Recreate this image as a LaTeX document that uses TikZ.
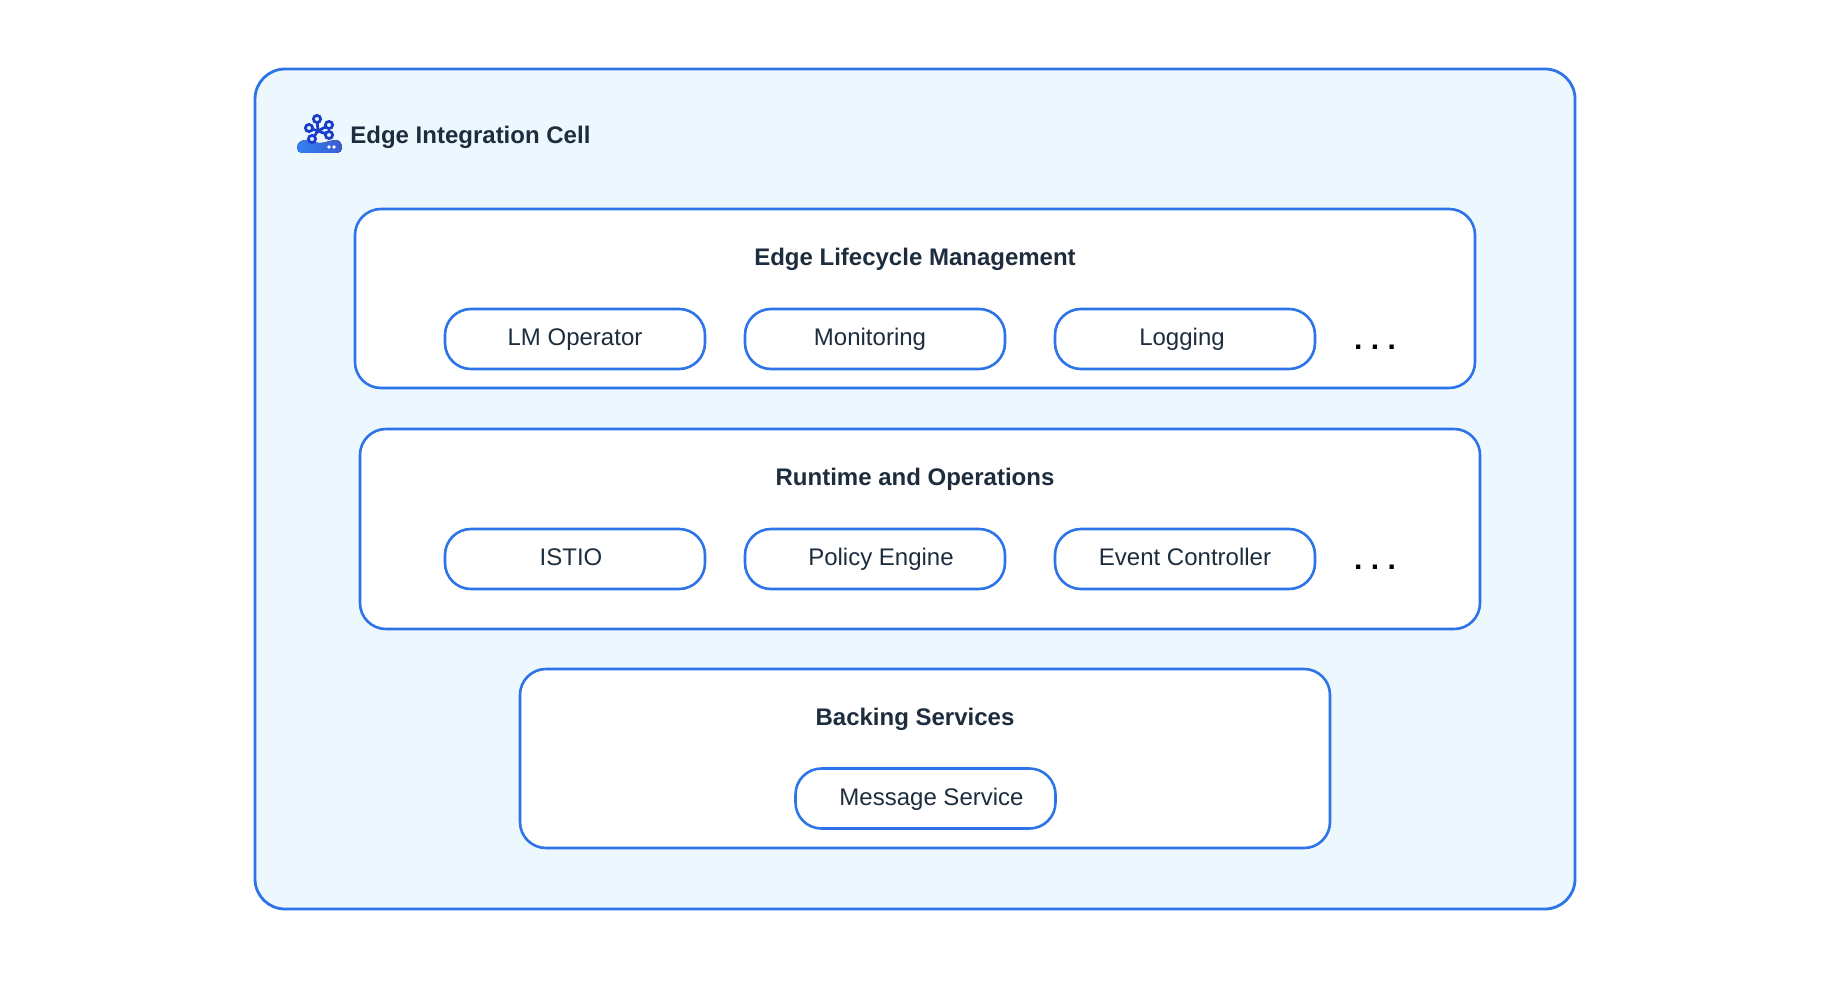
\documentclass[tikz,border=0pt]{standalone}
\usepackage{fontspec}
\usepackage{xcolor}
\usetikzlibrary{shapes,positioning}
\setmainfont{Liberation Sans}
\definecolor{cellblue}{RGB}{45, 116, 232}
\definecolor{cellfill}{RGB}{236, 247, 254}
\definecolor{textdark}{RGB}{29, 45, 62}
\definecolor{icondark}{RGB}{26, 62, 200}
\definecolor{iconlight}{RGB}{50, 130, 245}

\begin{document}
\begin{tikzpicture}[
    x=0.5pt, y=-0.5pt,
    node distance=150pt,
    outerbox/.style={rectangle, rounded corners=15pt, minimum width=660pt, minimum height=420pt, draw=cellblue, fill=cellfill, line width=1.4pt},
    panel/.style={rectangle, rounded corners=13pt, minimum height=89.5pt, draw=cellblue, fill=white, line width=1.3pt},
    pill/.style={rectangle, rounded corners=13pt, minimum width=130pt, minimum height=30pt, draw=cellblue, fill=white, line width=1.3pt},
    pilltext/.style={text=textdark, font=\fontsize{12}{14}\selectfont, inner sep=0pt, text height=9pt, text depth=2.5pt},
    titletext/.style={text=textdark, font=\fontsize{12}{14}\selectfont\bfseries, inner sep=0pt, text height=9pt, text depth=2.5pt},
    dotstext/.style={text=black, font=\fontsize{15}{16}\selectfont\bfseries\frenchspacing, inner sep=0pt},
    ring/.style={draw=icondark, line width=1.4pt, fill=cellfill}
]
\useasboundingbox (0,0) rectangle (1834,984);

% Outer cell
\node[outerbox] (edge_cell) at (915,489) {};
\node[titletext, anchor=west] (cell_title) at (350,137) {Edge Integration Cell};

% Icon
\fill[left color=iconlight, right color=icondark!85] (297,148) .. controls (297,142) and (302,140) .. (306,140) .. controls (312,140) and (314,143) .. (320,143) .. controls (326,143) and (330,140) .. (336,140) .. controls (340,140) and (342,144) .. (342,148) .. controls (342,151) and (340,153) .. (337,153) -- (302,153) .. controls (299,153) and (297,151) .. (297,148) -- cycle;
\foreach \px/\py in {317/119, 329/125, 329/135, 312/139, 309/128} {
    \draw[icondark, line width=1.4pt] (318,131) -- (\px,\py);
}
\foreach \px/\py in {317/119, 329/125, 329/135, 312/139, 309/128} {
    \draw[ring] (\px,\py) circle (3.6);
}
\fill[white] (329,147) circle (1.8);
\fill[white] (334,147) circle (1.8);

% Edge Lifecycle Management
\node[panel, minimum width=560pt] (lifecycle) at (915,298.5) {};
\node[titletext] (lifecycle_title) at (915,258.5) {Edge Lifecycle Management};
\node[pill, label={[pilltext]center:LM Operator}] (lm_operator) at (575,339) {};
\node[pill, right of=lm_operator, label={[pilltext, xshift=-2.5pt]center:Monitoring}] (monitoring) {};
\node[pill, right of=monitoring, xshift=5pt, label={[pilltext, xshift=-1.5pt]center:Logging}] (logging) {};
\node[dotstext, right of=logging, node distance=95pt, yshift=-4pt] (lifecycle_dots) {. . .};

% Runtime and Operations
\node[panel, minimum width=560pt, minimum height=100pt] (runtime) at (920,529) {};
\node[titletext] (runtime_title) at (915,478.5) {Runtime and Operations};
\node[pill, below of=lm_operator, node distance=110pt, label={[pilltext, xshift=-2pt]center:ISTIO}] (istio) {};
\node[pill, right of=istio, label={[pilltext, xshift=3pt]center:Policy Engine}] (policy_engine) {};
\node[pill, right of=policy_engine, xshift=5pt, label={[pilltext]center:Event Controller}] (event_controller) {};
\node[dotstext, right of=event_controller, node distance=95pt, yshift=-4pt] (runtime_dots) {. . .};

% Backing Services
\node[panel, minimum width=405pt] (backing) at (925,758.5) {};
\node[titletext] (backing_title) at (915,718.5) {Backing Services};
\node[pill, label={[pilltext, xshift=3pt]center:Message Service}] (message_service) at (925.5,798.5) {};

\end{tikzpicture}
\end{document}
